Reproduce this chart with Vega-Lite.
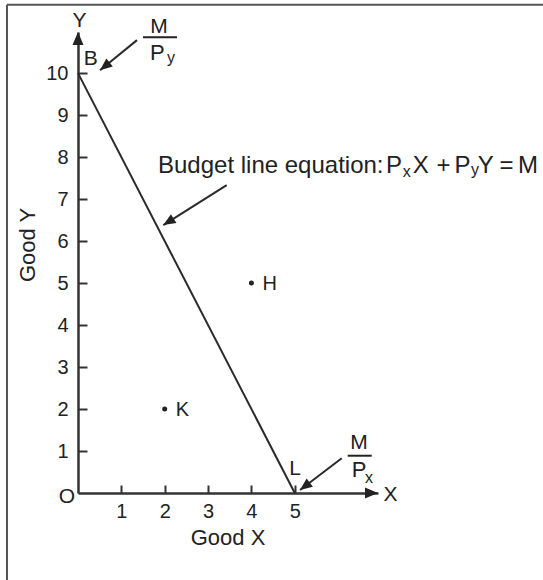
{
  "$schema": "https://vega.github.io/schema/vega-lite/v6.json",
  "width": 300,
  "height": 461,
  "autosize": "none",
  "padding": {"left": 78, "top": 32, "right": 165, "bottom": 87},
  "background": "white",
  "config": {
    "view": {"stroke": null},
    "text": {"font": "Liberation Sans", "color": "#222"}
  },
  "encoding": {
    "x": {
      "field": "x", "type": "quantitative",
      "scale": {"domain": [0, 6.92], "nice": false, "zero": false},
      "axis": {
        "title": "Good X", "values": [1, 2, 3, 4, 5], "grid": false,
        "domainColor": "#333", "domainWidth": 2.5,
        "tickColor": "#333", "tickWidth": 2, "tickSize": -8,
        "labelFont": "Liberation Sans", "labelFontSize": 20, "labelColor": "#222",
        "labelPadding": 16, "labelFlush": false, "labelOverlap": false,
        "titleFont": "Liberation Sans", "titleFontSize": 22, "titleFontWeight": "normal",
        "titleColor": "#222", "titleX": 149.5, "titleY": 44,
        "titleBaseline": "middle", "titleAlign": "center"
      }
    },
    "y": {
      "field": "y", "type": "quantitative",
      "scale": {"domain": [0, 10.98], "nice": false, "zero": false},
      "axis": {
        "title": "Good Y", "values": [1, 2, 3, 4, 5, 6, 7, 8, 9, 10], "grid": false,
        "domainColor": "#333", "domainWidth": 2.5,
        "tickColor": "#333", "tickWidth": 2, "tickSize": -9,
        "labelFont": "Liberation Sans", "labelFontSize": 20, "labelColor": "#222",
        "labelPadding": 19, "labelFlush": false, "labelOverlap": false,
        "titleFont": "Liberation Sans", "titleFontSize": 22, "titleFontWeight": "normal",
        "titleColor": "#222", "titleX": -50.5, "titleY": 212.5, "titleAngle": -90,
        "titleBaseline": "middle", "titleAlign": "center"
      }
    }
  },
  "layer": [
    {
      "description": "Frame edges (top and left)",
      "data": {"values": [
        {"edge": "top", "x": -1.638, "y": 11.631, "x2": 10.727, "y2": 11.631},
        {"edge": "left", "x": -1.638, "y": 11.631, "x2": -1.638, "y2": -2.071}
      ]},
      "mark": {"type": "rule", "color": "#555", "strokeWidth": 2, "clip": false},
      "encoding": {"x2": {"field": "x2"}, "y2": {"field": "y2"}}
    },
    {
      "description": "Budget line from B (0, M/Py) to L (M/Px, 0)",
      "data": {"values": [
        {"point": "B", "x": 0, "y": 10},
        {"point": "L", "x": 5, "y": 0}
      ]},
      "mark": {"type": "line", "color": "#2a2a2a", "strokeWidth": 2, "clip": false}
    },
    {
      "description": "Arrowheads at the ends of both axes",
      "data": {"values": [
        {"axis": "Y", "x": 0, "y": 10.98}
      ]},
      "mark": {"type": "point", "shape": "M0,0 L-2,-0.85 L-2,0.85 Z", "filled": true, "color": "#222", "opacity": 1, "size": 169, "angle": -90, "clip": false}
    },
    {
      "data": {"values": [
        {"axis": "X", "x": 6.92, "y": 0}
      ]},
      "mark": {"type": "point", "shape": "M0,0 L-2,-0.85 L-2,0.85 Z", "filled": true, "color": "#222", "opacity": 1, "size": 169, "angle": 0, "clip": false}
    },
    {
      "description": "Shafts of the annotation arrows",
      "data": {"values": [
        {"arrow": "intercept_y", "x": 1.361, "y": 10.786, "x2": 0.5075, "y2": 10.071},
        {"arrow": "equation", "x": 3.43, "y": 7.333, "x2": 1.968, "y2": 6.381},
        {"arrow": "intercept_x", "x": 6.083, "y": 0.826, "x2": 5.121, "y2": 0.071}
      ]},
      "mark": {"type": "rule", "color": "#2a2a2a", "strokeWidth": 2, "clip": false},
      "encoding": {"x2": {"field": "x2"}, "y2": {"field": "y2"}}
    },
    {
      "data": {"values": [{"arrow": "intercept_y", "x": 0.5075, "y": 10.071}]},
      "mark": {"type": "point", "shape": "M0,0 L-2,-0.85 L-2,0.85 Z", "filled": true, "color": "#222", "opacity": 1, "size": 150, "angle": 141.4, "clip": false}
    },
    {
      "data": {"values": [{"arrow": "equation", "x": 1.968, "y": 6.381}]},
      "mark": {"type": "point", "shape": "M0,0 L-2,-0.85 L-2,0.85 Z", "filled": true, "color": "#222", "opacity": 1, "size": 150, "angle": 147.8, "clip": false}
    },
    {
      "data": {"values": [{"arrow": "intercept_x", "x": 5.121, "y": 0.071}]},
      "mark": {"type": "point", "shape": "M0,0 L-2,-0.85 L-2,0.85 Z", "filled": true, "color": "#222", "opacity": 1, "size": 150, "angle": 142.8, "clip": false}
    },
    {
      "description": "Fraction bars of M/Py and M/Px",
      "data": {"values": [
        {"fraction": "M/Py", "x": 1.4994, "y": 10.857, "x2": 2.2837},
        {"fraction": "M/Px", "x": 6.221, "y": 0.888, "x2": 6.775}
      ]},
      "mark": {"type": "rule", "color": "#222", "strokeWidth": 2, "clip": false},
      "encoding": {"x2": {"field": "x2"}}
    },
    {
      "description": "Bundles H and K",
      "data": {"values": [
        {"bundle": "H", "x": 4, "y": 5},
        {"bundle": "K", "x": 2, "y": 2}
      ]},
      "layer": [
        {"mark": {"type": "circle", "color": "#222", "opacity": 1, "size": 25, "clip": false}},
        {
          "mark": {"type": "text", "align": "left", "baseline": "middle", "dx": 11, "dy": 1, "fontSize": 20, "clip": false},
          "encoding": {"text": {"field": "bundle"}}
        }
      ]
    },
    {
      "description": "Large labels: axis letters, origin and intercept names",
      "data": {"values": [
        {"label": "Y", "x": 0.035, "y": 11.1},
        {"label": "X", "x": 7.209, "y": -0.19},
        {"label": "O", "x": -0.254, "y": -0.238},
        {"label": "B", "x": 0.295, "y": 10.19},
        {"label": "L", "x": 5.006, "y": 0.429},
        {"label": "M", "x": 1.869, "y": 10.952},
        {"label": "M", "x": 6.482, "y": 1.048}
      ]},
      "mark": {"type": "text", "align": "center", "baseline": "alphabetic", "fontSize": 21, "clip": false},
      "encoding": {"text": {"field": "label"}}
    },
    {
      "description": "Budget line caption and the symbols of its equation",
      "data": {"values": [
        {"piece": "Budget line equation:", "x": 1.845, "y": 7.619},
        {"piece": "P", "x": 7.105, "y": 7.619},
        {"piece": "X", "x": 7.72, "y": 7.619},
        {"piece": "+", "x": 8.27, "y": 7.619},
        {"piece": "P", "x": 8.685, "y": 7.619},
        {"piece": "Y", "x": 9.22, "y": 7.619},
        {"piece": "=", "x": 9.723, "y": 7.619},
        {"piece": "M", "x": 10.15, "y": 7.619}
      ]},
      "mark": {"type": "text", "align": "left", "baseline": "alphabetic", "fontSize": 24, "clip": false},
      "encoding": {"text": {"field": "piece"}}
    },
    {
      "description": "The P of each fraction",
      "data": {"values": [
        {"piece": "P", "x": 1.661, "y": 10.31},
        {"piece": "P", "x": 6.314, "y": 0.388}
      ]},
      "mark": {"type": "text", "align": "left", "baseline": "alphabetic", "fontSize": 22, "clip": false},
      "encoding": {"text": {"field": "piece"}}
    },
    {
      "description": "Subscripts x and y",
      "data": {"values": [
        {"piece": "y", "x": 2.053, "y": 10.25},
        {"piece": "x", "x": 6.62, "y": 0.238},
        {"piece": "x", "x": 7.49, "y": 7.524},
        {"piece": "y", "x": 9.066, "y": 7.571}
      ]},
      "mark": {"type": "text", "align": "left", "baseline": "alphabetic", "fontSize": 16, "clip": false},
      "encoding": {"text": {"field": "piece"}}
    }
  ]
}
